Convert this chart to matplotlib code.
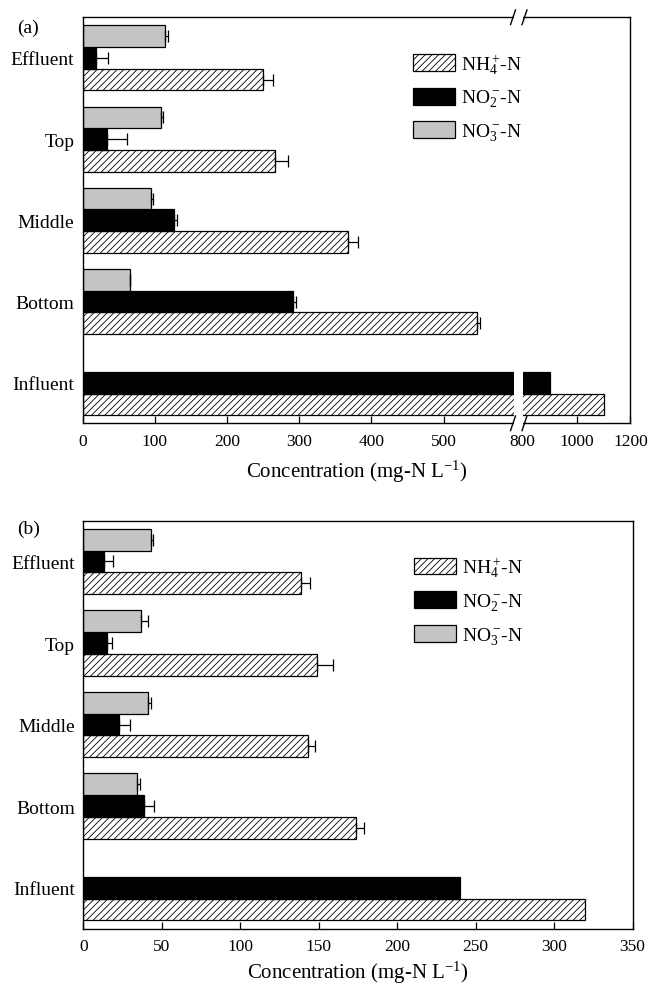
import numpy as np
import matplotlib
matplotlib.use("Agg")
import matplotlib.pyplot as plt
from matplotlib.patches import Rectangle
from matplotlib.lines import Line2D

plt.rcParams['font.family'] = ['Liberation Serif', 'DejaVu Serif']
plt.rcParams['mathtext.default'] = 'regular'
plt.rcParams['hatch.linewidth'] = 0.6
plt.rcParams['hatch.color'] = '#333333'

categories = ["Influent", "Bottom", "Middle", "Top", "Effluent"]
series_labels = [r"NH$_4^+\!$-N", r"NO$_2^-\!$-N", r"NO$_3^-\!$-N"]

# Panel (a)
a_nh4 = [1100, 546, 367, 267, 250]
a_nh4_err = [0, 5, 14, 17, 14]
a_no2 = [900, 292, 126, 34, 18]
a_no2_err = [0, 4, 5, 27, 17]
a_no3 = [0, 65, 95, 108, 114]
a_no3_err = [0, 1, 2, 3, 4]
a_ticks = [0, 100, 200, 300, 400, 500, 800, 1000, 1200]

# Panel (b)
b_nh4 = [320, 174, 143, 149, 139]
b_nh4_err = [0, 5, 4.5, 10, 5.5]
b_no2 = [240, 39, 23, 15, 13.5]
b_no2_err = [0, 6, 7, 3, 5.5]
b_no3 = [0, 34, 41, 37, 43]
b_no3_err = [0, 2, 2, 4, 1.5]
b_ticks = [0, 50, 100, 150, 200, 250, 300, 350]

W, H = 649, 987
fig = plt.figure(figsize=(W / 100, H / 100), dpi=100)

def px_axes(l, t, r, b):
    return fig.add_axes([l / W, (H - b) / H, (r - l) / W, (b - t) / H])

axA = px_axes(82.7, 18.3, 630.5, 424.3)
axB = px_axes(83.3, 521.7, 632.5, 929.5)

# broken scale for panel (a)
B0, B1, R = 597.0, 609.4, 0.374

def fwd(x):
    x = np.asarray(x, float)
    return np.where(x <= B0, x,
                    np.where(x < 800, B0 + (x - B0) * (B1 - B0) / (800 - B0),
                             B1 + (x - 800) * R))

def inv(y):
    y = np.asarray(y, float)
    return np.where(y <= B0, y,
                    np.where(y < B1, B0 + (y - B0) * (800 - B0) / (B1 - B0),
                             800 + (y - B1) / R))

hb = 0.267
ypos = np.arange(len(categories))

def draw(ax, nh4, nh4e, no2, no2e, no3, no3e, xlabelpad):
    kw = dict(height=hb, edgecolor='black', linewidth=0.9)
    styles = [dict(facecolor='white', hatch='/////'),
              dict(facecolor='black'),
              dict(facecolor='#c4c4c4')]
    for vals, off, st, lab in zip((nh4, no2, no3), (-hb, 0, hb), styles, series_labels):
        v = np.array(vals, float)
        m = v > 0
        ax.barh((ypos + off)[m], v[m], label=lab, **st, **kw)
    for vals, errs, off in ((nh4, nh4e, -hb), (no2, no2e, 0), (no3, no3e, hb)):
        v = np.array(vals, float)
        e = np.array(errs, float)
        m = e > 0
        ax.errorbar(v[m], (ypos + off)[m], xerr=[np.zeros(m.sum()), e[m]],
                    fmt='none', ecolor='black', elinewidth=0.9, capsize=4.3,
                    capthick=0.9, zorder=3)
    ax.set_ylim(-0.5, 4.5)
    ax.set_yticks(ypos)
    ax.set_yticklabels(categories, fontsize=14)
    ax.tick_params(axis='y', length=0, pad=6)
    ax.tick_params(axis='x', direction='in', length=5, width=0.9, labelsize=12.5, pad=7)
    for s in ax.spines.values():
        s.set_linewidth(1.0)
    ax.set_xlabel("Concentration (mg-N L$^{-1}$)", fontsize=15, labelpad=xlabelpad)
    ax.legend(loc='upper left', bbox_to_anchor=(0.603, 0.915), frameon=False,
              fontsize=14, handlelength=2.15, handleheight=0.95,
              handletextpad=0.3, labelspacing=0.62, borderpad=0,
              borderaxespad=0)

draw(axA, a_nh4, a_nh4_err, a_no2, a_no2_err, a_no3, a_no3_err, 6)
axA.set_xscale('function', functions=(fwd, inv))
axA.set_xlim(0, 1200)
axA.set_xticks(a_ticks)
axA.set_xticklabels([str(t) for t in a_ticks])
axA.xaxis.get_major_ticks()[a_ticks.index(800)].tick1line.set_visible(False)
axA.axvspan(B0, 800, facecolor='white', edgecolor='none', zorder=2)

# break marks
xs1 = (513 - 82.7) / (630.5 - 82.7)
xs2 = (524.5 - 82.7) / (630.5 - 82.7)
for yb in (0.0, 1.0):
    axA.add_patch(Rectangle((xs1 + 0.002, yb - 0.006), xs2 - xs1 - 0.004, 0.012,
                            transform=axA.transAxes, facecolor='white',
                            edgecolor='none', clip_on=False, zorder=4))
    for xc in (xs1, xs2):
        axA.add_line(Line2D([xc - 0.0045, xc + 0.0045], [yb - 0.018, yb + 0.018],
                            transform=axA.transAxes, color='black', lw=1.0,
                            clip_on=False, zorder=5))

draw(axB, b_nh4, b_nh4_err, b_no2, b_no2_err, b_no3, b_no3_err, 3)
axB.set_xlim(0, 350)
axB.set_xticks(b_ticks)

fig.text(17 / W, 1 - 28 / H, "(a)", fontsize=14, va='center', ha='left')
fig.text(17 / W, 1 - 529 / H, "(b)", fontsize=14, va='center', ha='left')

fig.savefig("out.png", dpi=100)
